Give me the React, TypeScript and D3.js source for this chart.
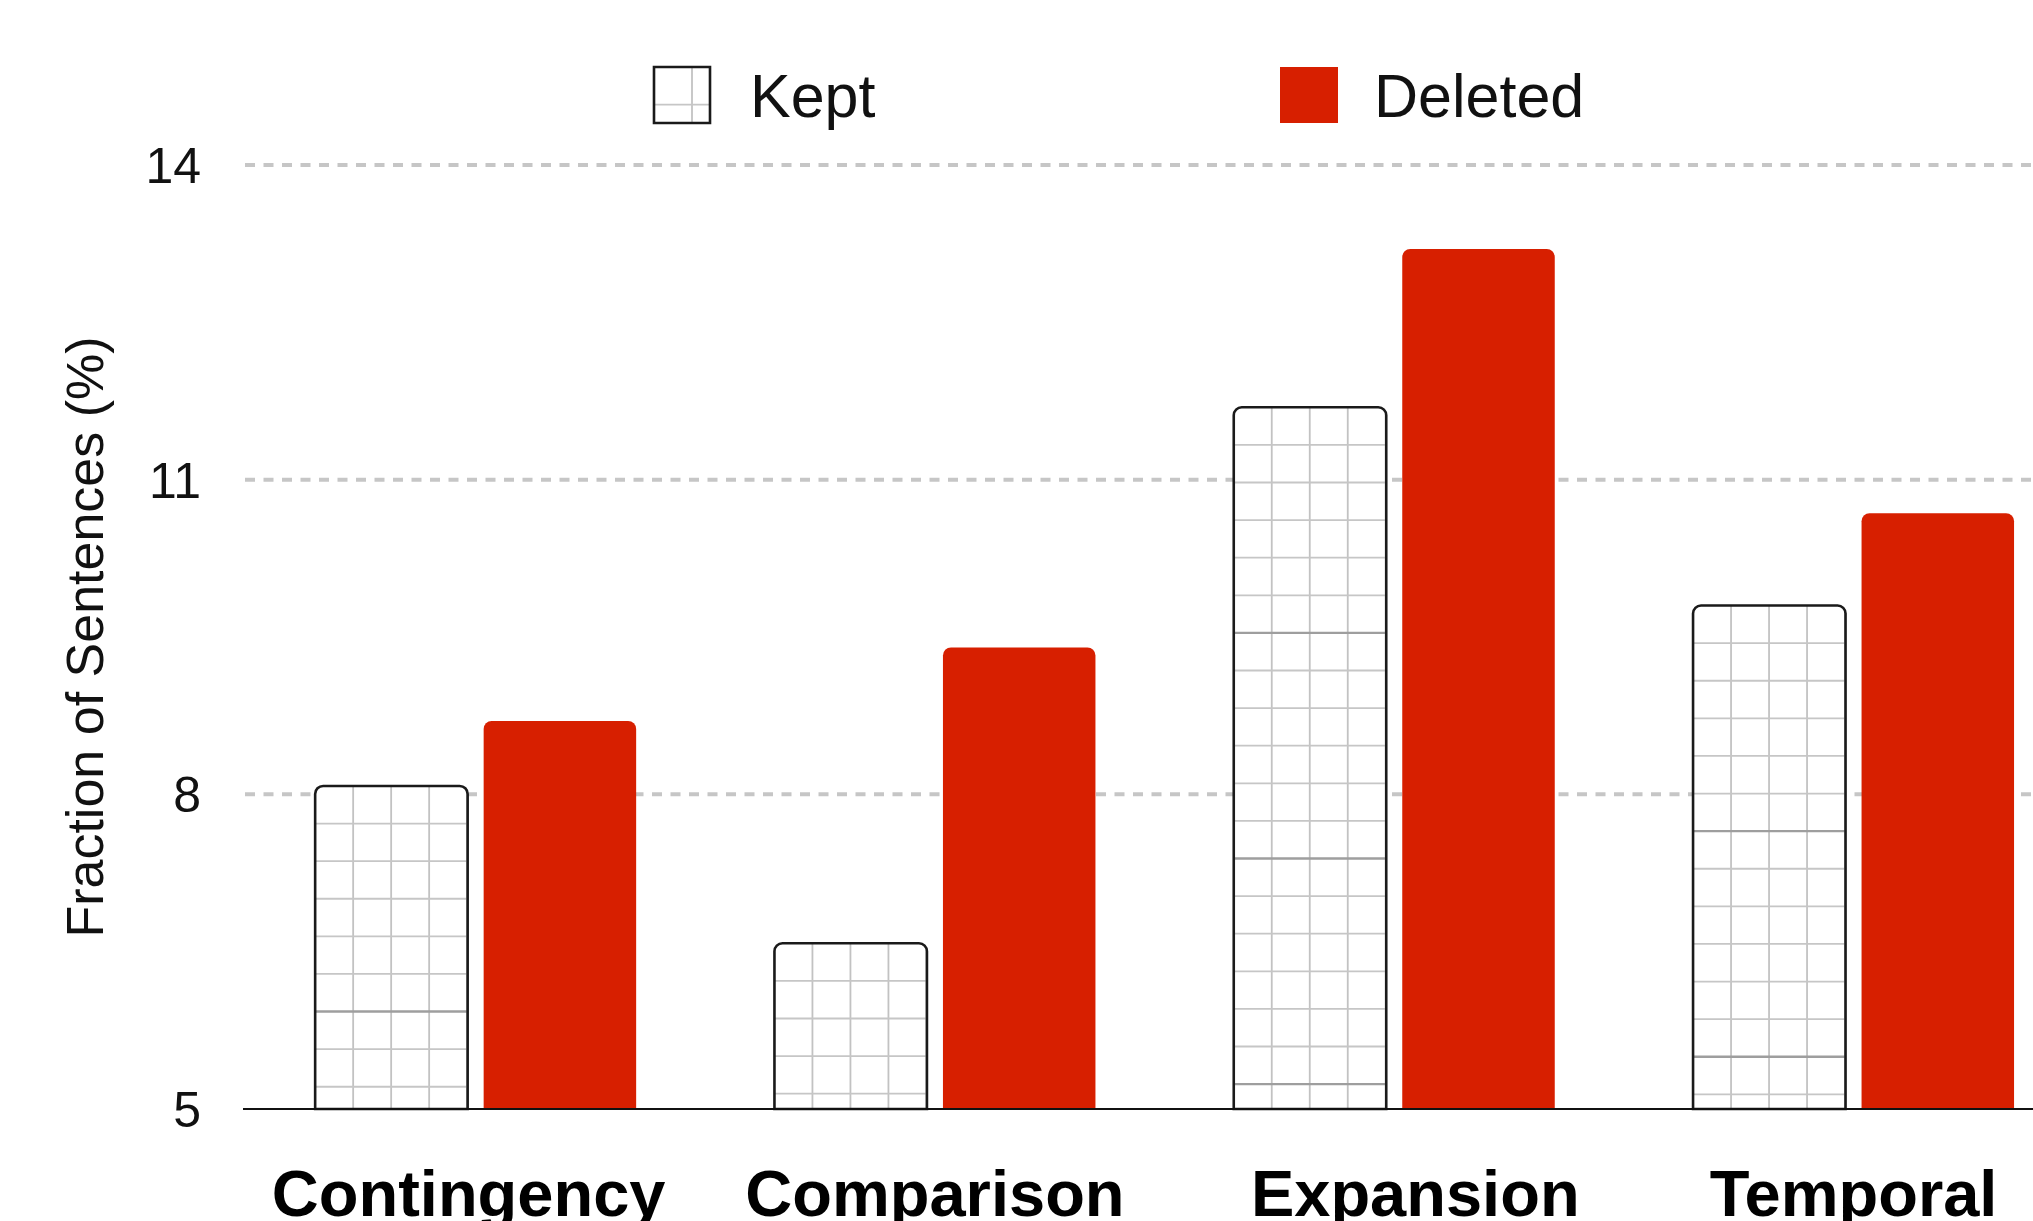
import React from "react";
import * as d3 from "d3";

// Share of sentences per discourse relation, for sentences kept vs. deleted
const categories = ["Contingency", "Comparison", "Expansion", "Temporal"];
const seriesNames = ["Kept", "Deleted"];
const keptValues = [8.08, 6.58, 11.69, 9.8];
const deletedValues = [8.7, 9.4, 13.2, 10.68];
const yTicks = [5, 8, 11, 14];
const yAxisTitle = "Fraction of Sentences (%)";

const W = 2033;
const H = 1221;
const RED = "#d71f00";
const FONT = "'Liberation Sans', Arial, Helvetica, sans-serif";

const y = d3.scaleLinear().domain([5, 14]).range([1109, 165]);
const x = d3.scaleBand<string>().domain(categories).range([246, 246 + 4 * 459.3]);
const inner = d3.scaleBand<string>().domain(seriesNames).range([0, 321]).paddingInner(0.095);

// small horizontal nudges for the category captions
const captionShift: Record<string, number> = { Contingency: -7, Comparison: 0, Expansion: 21, Temporal: 0 };

// bar outline with rounded top corners and a square base
function topRounded(x0: number, y0: number, w: number, h: number, r: number) {
  const p = d3.path();
  p.moveTo(x0, y0 + h);
  p.lineTo(x0, y0 + r);
  p.arcTo(x0, y0, x0 + r, y0, r);
  p.lineTo(x0 + w - r, y0);
  p.arcTo(x0 + w, y0, x0 + w, y0 + r, r);
  p.lineTo(x0 + w, y0 + h);
  p.closePath();
  return p.toString();
}

const TILE_W = 38;
const TILE_H = 37.6;

function GridFill({ id, x0, y0, w, h, d }: { id: string; x0: number; y0: number; w: number; h: number; d: string }) {
  const cols = d3.range(1, Math.ceil(w / TILE_W));
  const rows = d3.range(1, Math.ceil(h / TILE_H) + 1).filter((j) => j * TILE_H < h);
  return (
    <g>
      <clipPath id={id}>
        <path d={d} />
      </clipPath>
      <path d={d} fill="#fff" />
      <g clipPath={`url(#${id})`}>
        {cols.map((k) => (
          <line key={"v" + k} x1={x0 + k * TILE_W} x2={x0 + k * TILE_W} y1={y0} y2={y0 + h} stroke="#c2c2c2" strokeWidth={1.8} />
        ))}
        {rows.map((j) => (
          <line
            key={"h" + j}
            x1={x0}
            x2={x0 + w}
            y1={y0 + j * TILE_H}
            y2={y0 + j * TILE_H}
            stroke={j % 6 === 0 ? "#9e9e9e" : "#c6c6c6"}
            strokeWidth={j % 6 === 0 ? 2.4 : 1.8}
          />
        ))}
      </g>
      <path d={d} fill="none" stroke="#1a1a1a" strokeWidth={2.6} />
    </g>
  );
}

export default function App() {
  const base = y(5);
  const values: Record<string, number[]> = { Kept: keptValues, Deleted: deletedValues };

  return (
    <svg
      width={W}
      height={H}
      viewBox={`0 0 ${W} ${H}`}
      style={{ position: "absolute", left: 0, top: 0, display: "block", background: "#fff" }}
    >
      {/* horizontal guide lines */}
      {yTicks
        .filter((t) => t !== 5)
        .map((t) => (
          <line key={t} x1={245} x2={W} y1={y(t)} y2={y(t)} stroke="#c6c6c6" strokeWidth={4} strokeDasharray="10 8.5" />
        ))}

      {/* tick labels */}
      {yTicks.map((t) => (
        <text key={t} x={201} y={y(t)} dy="0.36em" textAnchor="end" fontFamily={FONT} fontSize={50} fill="#111">
          {t}
        </text>
      ))}

      <text
        transform={`translate(103, 637) rotate(-90)`}
        textAnchor="middle"
        fontFamily={FONT}
        fontSize={52}
        fill="#111"
      >
        {yAxisTitle}
      </text>

      {/* bars */}
      {categories.map((c, i) => {
        const gx = x(c)! + x.bandwidth() / 2 - 160.5;
        return (
          <g key={c}>
            {seriesNames.map((s) => {
              const v = values[s][i];
              const bx = gx + inner(s)!;
              const bw = inner.bandwidth();
              const by = y(v);
              const bh = base - by;
              const d = topRounded(bx, by, bw, bh, 8);
              if (s === "Kept") {
                return <GridFill key={s} id={`kept-${i}`} x0={bx} y0={by} w={bw} h={bh} d={d} />;
              }
              return <path key={s} d={d} fill={RED} />;
            })}
          </g>
        );
      })}

      {/* baseline */}
      <line x1={243} x2={W} y1={base} y2={base} stroke="#111" strokeWidth={2.2} />

      {/* category labels */}
      {categories.map((c) => (
        <text
          key={c}
          x={x(c)! + x.bandwidth() / 2 + captionShift[c]}
          y={1216}
          textAnchor="middle"
          fontFamily={FONT}
          fontWeight="bold"
          fontSize={65}
          fill="#000"
        >
          {c}
        </text>
      ))}

      {/* legend */}
      <g>
        <GridFill
          id="legend-kept"
          x0={654}
          y0={67}
          w={56}
          h={56}
          d={`M654,67h56v56h-56Z`}
        />
        <text x={750} y={117} fontFamily={FONT} fontSize={61} fill="#111">
          {seriesNames[0]}
        </text>
        <rect x={1280} y={67} width={58} height={56} fill={RED} />
        <text x={1374} y={117} fontFamily={FONT} fontSize={61} fill="#111">
          {seriesNames[1]}
        </text>
      </g>
    </svg>
  );
}
